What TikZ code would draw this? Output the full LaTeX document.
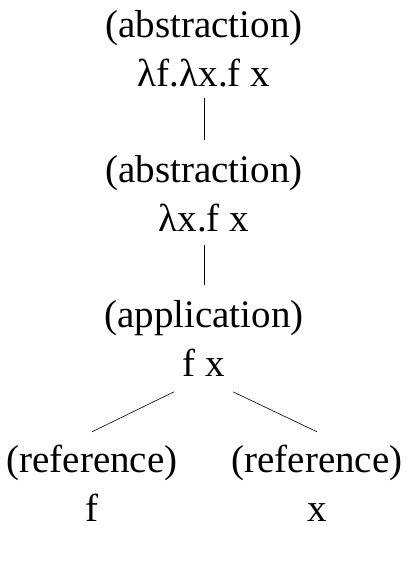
\documentclass[tikz,border=0pt]{standalone}
\usepackage{fontspec}
\setmainfont{Liberation Serif}
\usepackage{tikz}

\begin{document}
\begin{tikzpicture}[
        x=1pt, y=1pt,
        term/.style={align=center, inner sep=0pt, anchor=north,
            font=\fontsize{39}{49.5}\selectfont},
        branch/.style={draw, line width=0.6pt}
        ]
    % Fix the page size
    \useasboundingbox (0,0) rectangle (408,-584);

    % Define term nodes
    \node[term] (abs1) at (204, -2.4) {\strut(abstraction)\\\strut λf.λx.f x};
    \node[term] (abs2) at (204, -147.4) {\strut(abstraction)\\\strut λx.f x};
    \node[term] (app) at (204, -292.4) {\strut(application)\\\strut f x};
    \node[term] (refF) at (92, -437.4) {\strut(reference)\\\strut f};
    \node[term] (refX) at (317, -437.4) {\strut(reference)\\\strut x};

    % Draw edges between terms
    \draw[branch, shorten <=-3.4pt, shorten >=7.4pt] (abs1.south) -- (abs2.north);
    \draw[branch, shorten <=-1.4pt, shorten >=7.4pt] (abs2.south) -- (app.north);
    \draw[branch] ([xshift=-30pt]app.south) -- ([yshift=5.6pt]refF.north);
    \draw[branch] ([xshift=29pt]app.south) -- ([yshift=5.6pt]refX.north);

\end{tikzpicture}
\end{document}
